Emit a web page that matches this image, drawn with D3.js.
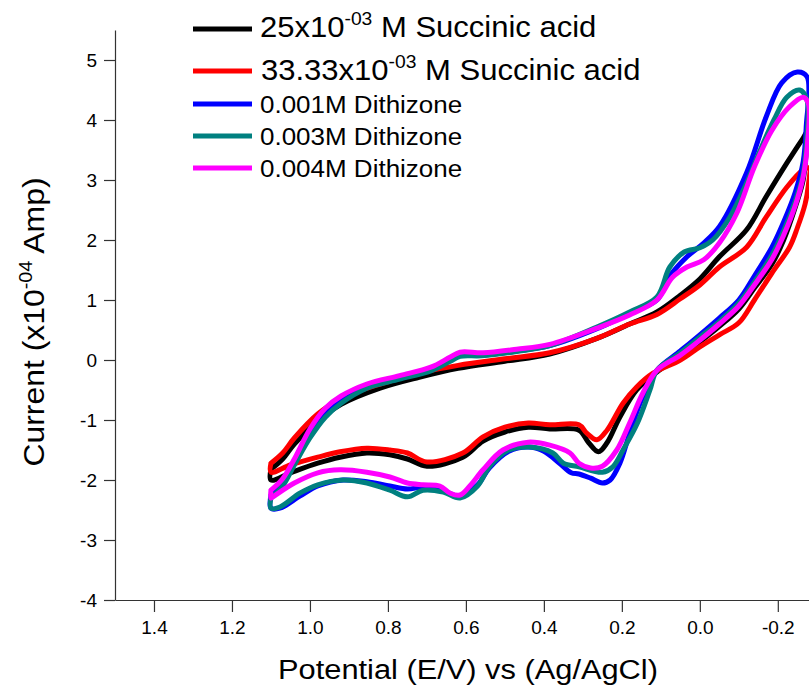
<!DOCTYPE html>
<html>
<head>
<meta charset="utf-8">
<script src="https://cdn.jsdelivr.net/npm/d3@7"></script>
<style>
  html, body { margin: 0; padding: 0; background: #fff; }
  svg { display: block; font-family: "Liberation Sans", Arial, sans-serif; }
</style>
</head>
<body>
<svg id="chart" width="809" height="687"></svg>
<script>
// ---- Data (Potential E/V, Current x1e-4 A) ----
const succ25Upper = [[1.10,-1.82],[1.07,-1.65],[1.04,-1.4],[0.98,-1.02],[0.92,-0.74],[0.82,-0.47],[0.72,-0.29],[0.62,-0.14],[0.50,-0.02],[0.385,0.1],[0.264,0.36],[0.18,0.6],[0.11,0.8],[0.05,1.08],[0.0,1.35],[-0.05,1.72],[-0.12,2.17],[-0.17,2.72],[-0.223,3.28],[-0.265,3.7],[-0.275,3.8]];
const succ25Lower = [[-0.273,3.5],[-0.265,3.0],[-0.245,2.55],[-0.215,2.0],[-0.185,1.6],[-0.14,1.2],[-0.10,0.85],[-0.05,0.56],[0.0,0.3],[0.05,0.06],[0.11,-0.2],[0.162,-0.5],[0.205,-0.95],[0.238,-1.38],[0.26,-1.53],[0.285,-1.38],[0.31,-1.17],[0.385,-1.15],[0.44,-1.12],[0.50,-1.2],[0.556,-1.35],[0.608,-1.62],[0.70,-1.77],[0.75,-1.65],[0.795,-1.58],[0.854,-1.55],[0.923,-1.62],[0.98,-1.72],[1.05,-1.88],[1.10,-2.0]];

const succ33Upper = [[1.10,-1.72],[1.07,-1.55],[1.04,-1.3],[0.98,-0.9],[0.92,-0.64],[0.82,-0.4],[0.72,-0.22],[0.62,-0.09],[0.50,0.02],[0.385,0.12],[0.264,0.36],[0.18,0.6],[0.11,0.76],[0.05,1.02],[0.0,1.25],[-0.05,1.55],[-0.12,1.88],[-0.17,2.38],[-0.223,2.88],[-0.265,3.17],[-0.28,3.2]];
const succ33Lower = [[-0.278,2.9],[-0.27,2.6],[-0.25,2.2],[-0.23,1.88],[-0.185,1.45],[-0.14,1.0],[-0.10,0.62],[-0.05,0.42],[0.0,0.22],[0.05,0.0],[0.12,-0.22],[0.162,-0.45],[0.197,-0.72],[0.238,-1.17],[0.264,-1.33],[0.29,-1.22],[0.31,-1.08],[0.385,-1.08],[0.44,-1.05],[0.50,-1.12],[0.556,-1.28],[0.608,-1.55],[0.70,-1.7],[0.75,-1.55],[0.795,-1.5],[0.854,-1.47],[0.923,-1.53],[0.98,-1.62],[1.05,-1.75],[1.10,-1.87]];

const dith001Upper = [[1.10,-2.25],[1.07,-2.05],[1.04,-1.7],[1.0,-1.25],[0.96,-0.88],[0.92,-0.66],[0.854,-0.45],[0.77,-0.3],[0.69,-0.16],[0.64,0.0],[0.615,0.08],[0.56,0.08],[0.47,0.15],[0.385,0.24],[0.264,0.52],[0.18,0.78],[0.11,1.0],[0.077,1.4],[0.033,1.72],[-0.01,1.95],[-0.05,2.22],[-0.12,3.12],[-0.17,4.05],[-0.21,4.62],[-0.25,4.8],[-0.275,4.72]];
const dith001Lower = [[-0.273,3.9],[-0.265,3.3],[-0.245,2.8],[-0.215,2.3],[-0.185,1.88],[-0.14,1.4],[-0.10,1.0],[-0.05,0.7],[0.0,0.42],[0.05,0.15],[0.11,-0.17],[0.15,-0.67],[0.18,-1.22],[0.205,-1.72],[0.23,-2.0],[0.25,-2.05],[0.28,-1.97],[0.31,-1.9],[0.33,-1.88],[0.36,-1.72],[0.40,-1.52],[0.44,-1.45],[0.49,-1.52],[0.54,-1.8],[0.57,-2.08],[0.615,-2.27],[0.658,-2.18],[0.71,-2.12],[0.75,-2.15],[0.795,-2.1],[0.854,-2.03],[0.915,-2.0],[0.98,-2.1],[1.026,-2.27],[1.077,-2.47],[1.10,-2.47]];

const dith003Upper = [[1.10,-2.3],[1.07,-2.1],[1.04,-1.75],[1.0,-1.3],[0.96,-0.95],[0.92,-0.72],[0.854,-0.47],[0.77,-0.32],[0.69,-0.18],[0.64,-0.02],[0.615,0.06],[0.56,0.07],[0.47,0.14],[0.385,0.24],[0.264,0.55],[0.18,0.8],[0.11,1.05],[0.077,1.55],[0.04,1.8],[0.0,1.87],[-0.033,2.0],[-0.077,2.38],[-0.12,2.95],[-0.155,3.5],[-0.19,4.0],[-0.223,4.38],[-0.256,4.5],[-0.275,4.33]];
const dith003Lower = [[-0.273,3.6],[-0.265,3.1],[-0.245,2.65],[-0.215,2.15],[-0.185,1.75],[-0.14,1.3],[-0.10,0.95],[-0.05,0.64],[0.0,0.38],[0.05,0.12],[0.11,-0.17],[0.128,-0.5],[0.16,-1.05],[0.197,-1.5],[0.223,-1.78],[0.25,-1.87],[0.31,-1.78],[0.35,-1.72],[0.377,-1.55],[0.436,-1.45],[0.49,-1.5],[0.54,-1.78],[0.57,-2.1],[0.615,-2.3],[0.658,-2.2],[0.71,-2.17],[0.75,-2.28],[0.795,-2.17],[0.854,-2.05],[0.915,-2.0],[0.98,-2.08],[1.026,-2.22],[1.077,-2.45],[1.10,-2.47]];

const dith004Upper = [[1.10,-2.17],[1.07,-1.98],[1.04,-1.65],[1.0,-1.15],[0.96,-0.8],[0.92,-0.6],[0.854,-0.4],[0.77,-0.26],[0.69,-0.12],[0.64,0.05],[0.615,0.13],[0.556,0.12],[0.47,0.18],[0.385,0.26],[0.264,0.53],[0.18,0.75],[0.11,1.0],[0.07,1.38],[0.033,1.55],[-0.01,1.67],[-0.05,1.95],[-0.095,2.45],[-0.14,3.22],[-0.185,3.83],[-0.23,4.22],[-0.265,4.38],[-0.278,4.28]];
const dith004Lower = [[-0.276,3.6],[-0.265,3.05],[-0.245,2.58],[-0.215,2.08],[-0.185,1.68],[-0.14,1.25],[-0.10,0.9],[-0.05,0.6],[0.0,0.33],[0.05,0.08],[0.11,-0.17],[0.146,-0.55],[0.18,-1.05],[0.213,-1.5],[0.25,-1.77],[0.28,-1.8],[0.31,-1.72],[0.333,-1.55],[0.385,-1.42],[0.44,-1.37],[0.505,-1.5],[0.556,-1.83],[0.59,-2.1],[0.615,-2.25],[0.64,-2.22],[0.667,-2.1],[0.71,-2.08],[0.75,-2.05],[0.795,-1.95],[0.854,-1.87],[0.923,-1.83],[0.98,-1.88],[1.04,-2.05],[1.095,-2.28],[1.10,-2.3]];

const seriesNames = ["25x10|-03| M Succinic acid", "33.33x10|-03| M Succinic acid", "0.001M Dithizone", "0.003M Dithizone", "0.004M Dithizone"];
const seriesColors = ["#000000", "#ff0000", "#0000ff", "#008080", "#ff00ff"];
const seriesUpper = [succ25Upper, succ33Upper, dith001Upper, dith003Upper, dith004Upper];
const seriesLower = [succ25Lower, succ33Lower, dith001Lower, dith003Lower, dith004Lower];

const xMajorTicks = [1.4, 1.2, 1.0, 0.8, 0.6, 0.4, 0.2, 0.0, -0.2];
const xMinorTicks = [1.5, 1.3, 1.1, 0.9, 0.7, 0.5, 0.3, 0.1, -0.1];
const yMajorTicks = [-4, -3, -2, -1, 0, 1, 2, 3, 4, 5];
const yMinorTicks = [-3.5, -2.5, -1.5, -0.5, 0.5, 1.5, 2.5, 3.5, 4.5, 5.5];

// ---- Layout ----
const svg = d3.select("#chart");
const x = d3.scaleLinear().domain([1.5, -0.28]).range([115, 809]);
const y = d3.scaleLinear().domain([-4, 5.5]).range([600, 30]);

// axes
const axisColor = "#333";
const gx = svg.append("g").attr("transform", "translate(0,600)");
gx.call(d3.axisBottom(x).tickValues(xMinorTicks).tickSize(6).tickFormat(""));
gx.call(d3.axisBottom(x).tickValues(xMajorTicks).tickSize(12).tickPadding(9).tickSizeOuter(0)
  .tickFormat(d => d.toFixed(1)));
const gy = svg.append("g").attr("transform", "translate(115,0)");
gy.call(d3.axisLeft(y).tickValues(yMinorTicks).tickSize(6).tickFormat(""));
gy.call(d3.axisLeft(y).tickValues(yMajorTicks).tickSize(11).tickPadding(7).tickSizeOuter(0)
  .tickFormat(d => String(d)));
svg.selectAll(".domain").attr("stroke", axisColor).attr("stroke-width", 1.2);
svg.selectAll(".tick line").attr("stroke", axisColor).attr("stroke-width", 1.2);
svg.selectAll(".tick text").attr("font-size", 19).attr("fill", "#000")
  .attr("font-family", "'Liberation Sans', Arial, sans-serif");

// curves
const line = d3.line().x(d => x(d[0])).y(d => y(d[1])).curve(d3.curveCatmullRom.alpha(0.5));
const plot = svg.append("g");
seriesUpper.forEach((up, i) => {
  const pts = up.concat(seriesLower[i]).concat([up[0]]);
  plot.append("path").attr("d", line(pts))
    .attr("fill", "none").attr("stroke", seriesColors[i]).attr("stroke-width", 5)
    .attr("stroke-linejoin", "round").attr("stroke-linecap", "round");
});

// helper for text with superscript: parts split by "|"
function richText(g, str, fs, supFs, supDy) {
  const parts = str.split("|");
  const t = g.append("text").attr("font-size", fs).attr("fill", "#000");
  parts.forEach((p, k) => {
    if (k % 2 === 1) {
      t.append("tspan").attr("font-size", supFs).attr("dy", -supDy).text(p);
    } else {
      const ts = t.append("tspan").text(p);
      if (k > 0) ts.attr("dy", supDy);
    }
  });
  return t;
}

// legend
const legRows = [
  {ly: 29, ty: 37, fs: 29, sx: 1.07, tx: 260},
  {ly: 71, ty: 80, fs: 29, sx: 1.07, tx: 261},
  {ly: 104, ty: 113, fs: 23, sx: 1.13, tx: 260},
  {ly: 136, ty: 145, fs: 23, sx: 1.13, tx: 260},
  {ly: 168, ty: 177, fs: 23, sx: 1.13, tx: 260}
];
seriesNames.forEach((name, i) => {
  const r = legRows[i];
  svg.append("line").attr("x1", 193).attr("x2", 252).attr("y1", r.ly).attr("y2", r.ly)
    .attr("stroke", seriesColors[i]).attr("stroke-width", 5);
  const g = svg.append("g").attr("transform", `translate(${r.tx},${r.ty}) scale(${r.sx},1)`);
  richText(g, name, r.fs, 18, 12);
});

// axis titles
const gxl = svg.append("g").attr("transform", "translate(468,679) scale(1.1,1)");
gxl.append("text").attr("text-anchor", "middle").attr("font-size", 28).attr("fill", "#000")
  .text("Potential (E/V) vs (Ag/AgCl)");
const gyl = svg.append("g").attr("transform", "translate(44,322) rotate(-90) scale(1.1,1)");
richText(gyl, "Current (x10|-04| Amp)", 29, 18, 12).attr("text-anchor", "middle");
</script>
</body>
</html>
